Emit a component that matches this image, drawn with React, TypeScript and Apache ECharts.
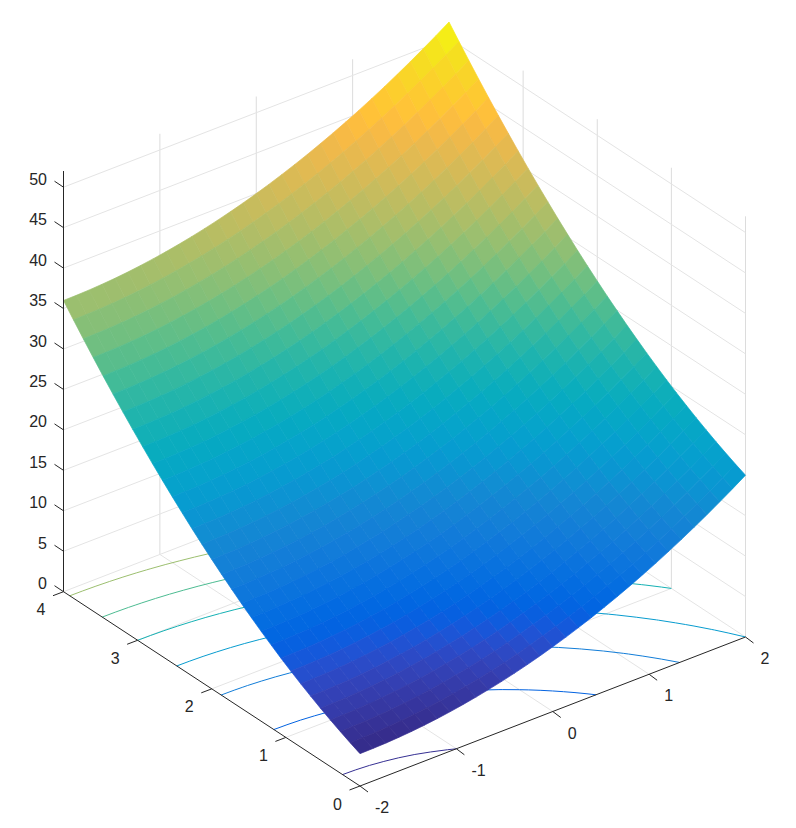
import React, { useEffect, useRef } from "react";
import * as echarts from "echarts";

const xValues = [-2,-1.8667,-1.7333,-1.6,-1.4667,-1.3333,-1.2,-1.0667,-0.9333,-0.8,-0.6667,-0.5333,-0.4,-0.2667,-0.1333,0,0.1333,0.2667,0.4,0.5333,0.6667,0.8,0.9333,1.0667,1.2,1.3333,1.4667,1.6,1.7333,1.8667,2];
const yValues = [0,0.1333,0.2667,0.4,0.5333,0.6667,0.8,0.9333,1.0667,1.2,1.3333,1.4667,1.6,1.7333,1.8667,2,2.1333,2.2667,2.4,2.5333,2.6667,2.8,2.9333,3.0667,3.2,3.3333,3.4667,3.6,3.7333,3.8667,4];
const zRows = [
[4,4.02,4.07,4.16,4.28,4.44,4.64,4.87,5.14,5.44,5.78,6.15,6.56,7,7.48,8,8.55,9.14,9.76,10.42,11.11,11.84,12.6,13.4,14.24,15.11,16.02,16.96,17.94,18.95,20],
[4.55,4.57,4.62,4.71,4.83,4.99,5.19,5.42,5.69,5.99,6.33,6.7,7.11,7.55,8.03,8.55,9.1,9.69,10.31,10.97,11.66,12.39,13.15,13.95,14.79,15.66,16.57,17.51,18.49,19.5,20.55],
[5.14,5.16,5.21,5.3,5.42,5.58,5.78,6.01,6.28,6.58,6.92,7.29,7.7,8.14,8.62,9.14,9.69,10.28,10.9,11.56,12.25,12.98,13.74,14.54,15.38,16.25,17.16,18.1,19.08,20.09,21.14],
[5.76,5.78,5.83,5.92,6.04,6.2,6.4,6.63,6.9,7.2,7.54,7.91,8.32,8.76,9.24,9.76,10.31,10.9,11.52,12.18,12.87,13.6,14.36,15.16,16,16.87,17.78,18.72,19.7,20.71,21.76],
[6.42,6.44,6.49,6.58,6.7,6.86,7.06,7.29,7.56,7.86,8.2,8.57,8.98,9.42,9.9,10.42,10.97,11.56,12.18,12.84,13.53,14.26,15.02,15.82,16.66,17.53,18.44,19.38,20.36,21.37,22.42],
[7.11,7.13,7.18,7.27,7.39,7.55,7.75,7.98,8.25,8.55,8.89,9.26,9.67,10.11,10.59,11.11,11.66,12.25,12.87,13.53,14.22,14.95,15.71,16.51,17.35,18.22,19.13,20.07,21.05,22.06,23.11],
[7.84,7.86,7.91,8,8.12,8.28,8.48,8.71,8.98,9.28,9.62,9.99,10.4,10.84,11.32,11.84,12.39,12.98,13.6,14.26,14.95,15.68,16.44,17.24,18.08,18.95,19.86,20.8,21.78,22.79,23.84],
[8.6,8.62,8.67,8.76,8.88,9.04,9.24,9.47,9.74,10.04,10.38,10.75,11.16,11.6,12.08,12.6,13.15,13.74,14.36,15.02,15.71,16.44,17.2,18,18.84,19.71,20.62,21.56,22.54,23.55,24.6],
[9.4,9.42,9.47,9.56,9.68,9.84,10.04,10.27,10.54,10.84,11.18,11.55,11.96,12.4,12.88,13.4,13.95,14.54,15.16,15.82,16.51,17.24,18,18.8,19.64,20.51,21.42,22.36,23.34,24.35,25.4],
[10.24,10.26,10.31,10.4,10.52,10.68,10.88,11.11,11.38,11.68,12.02,12.39,12.8,13.24,13.72,14.24,14.79,15.38,16,16.66,17.35,18.08,18.84,19.64,20.48,21.35,22.26,23.2,24.18,25.19,26.24],
[11.11,11.13,11.18,11.27,11.39,11.55,11.75,11.98,12.25,12.55,12.89,13.26,13.67,14.11,14.59,15.11,15.66,16.25,16.87,17.53,18.22,18.95,19.71,20.51,21.35,22.22,23.13,24.07,25.05,26.06,27.11],
[12.02,12.04,12.09,12.18,12.3,12.46,12.66,12.89,13.16,13.46,13.8,14.17,14.58,15.02,15.5,16.02,16.57,17.16,17.78,18.44,19.13,19.86,20.62,21.42,22.26,23.13,24.04,24.98,25.96,26.97,28.02],
[12.96,12.98,13.03,13.12,13.24,13.4,13.6,13.83,14.1,14.4,14.74,15.11,15.52,15.96,16.44,16.96,17.51,18.1,18.72,19.38,20.07,20.8,21.56,22.36,23.2,24.07,24.98,25.92,26.9,27.91,28.96],
[13.94,13.96,14.01,14.1,14.22,14.38,14.58,14.81,15.08,15.38,15.72,16.09,16.5,16.94,17.42,17.94,18.49,19.08,19.7,20.36,21.05,21.78,22.54,23.34,24.18,25.05,25.96,26.9,27.88,28.89,29.94],
[14.95,14.97,15.02,15.11,15.23,15.39,15.59,15.82,16.09,16.39,16.73,17.1,17.51,17.95,18.43,18.95,19.5,20.09,20.71,21.37,22.06,22.79,23.55,24.35,25.19,26.06,26.97,27.91,28.89,29.9,30.95],
[16,16.02,16.07,16.16,16.28,16.44,16.64,16.87,17.14,17.44,17.78,18.15,18.56,19,19.48,20,20.55,21.14,21.76,22.42,23.11,23.84,24.6,25.4,26.24,27.11,28.02,28.96,29.94,30.95,32],
[17.08,17.1,17.15,17.24,17.36,17.52,17.72,17.95,18.22,18.52,18.86,19.23,19.64,20.08,20.56,21.08,21.63,22.22,22.84,23.5,24.19,24.92,25.68,26.48,27.32,28.19,29.1,30.04,31.02,32.03,33.08],
[18.2,18.22,18.27,18.36,18.48,18.64,18.84,19.07,19.34,19.64,19.98,20.35,20.76,21.2,21.68,22.2,22.75,23.34,23.96,24.62,25.31,26.04,26.8,27.6,28.44,29.31,30.22,31.16,32.14,33.15,34.2],
[19.36,19.38,19.43,19.52,19.64,19.8,20,20.23,20.5,20.8,21.14,21.51,21.92,22.36,22.84,23.36,23.91,24.5,25.12,25.78,26.47,27.2,27.96,28.76,29.6,30.47,31.38,32.32,33.3,34.31,35.36],
[20.55,20.57,20.62,20.71,20.83,20.99,21.19,21.42,21.69,21.99,22.33,22.7,23.11,23.55,24.03,24.55,25.1,25.69,26.31,26.97,27.66,28.39,29.15,29.95,30.79,31.66,32.57,33.51,34.49,35.5,36.55],
[21.78,21.8,21.85,21.94,22.06,22.22,22.42,22.65,22.92,23.22,23.56,23.93,24.34,24.78,25.26,25.78,26.33,26.92,27.54,28.2,28.89,29.62,30.38,31.18,32.02,32.89,33.8,34.74,35.72,36.73,37.78],
[23.04,23.06,23.11,23.2,23.32,23.48,23.68,23.91,24.18,24.48,24.82,25.19,25.6,26.04,26.52,27.04,27.59,28.18,28.8,29.46,30.15,30.88,31.64,32.44,33.28,34.15,35.06,36,36.98,37.99,39.04],
[24.34,24.36,24.41,24.5,24.62,24.78,24.98,25.21,25.48,25.78,26.12,26.49,26.9,27.34,27.82,28.34,28.89,29.48,30.1,30.76,31.45,32.18,32.94,33.74,34.58,35.45,36.36,37.3,38.28,39.29,40.34],
[25.67,25.69,25.74,25.83,25.95,26.11,26.31,26.54,26.81,27.11,27.45,27.82,28.23,28.67,29.15,29.67,30.22,30.81,31.43,32.09,32.78,33.51,34.27,35.07,35.91,36.78,37.69,38.63,39.61,40.62,41.67],
[27.04,27.06,27.11,27.2,27.32,27.48,27.68,27.91,28.18,28.48,28.82,29.19,29.6,30.04,30.52,31.04,31.59,32.18,32.8,33.46,34.15,34.88,35.64,36.44,37.28,38.15,39.06,40,40.98,41.99,43.04],
[28.44,28.46,28.51,28.6,28.72,28.88,29.08,29.31,29.58,29.88,30.22,30.59,31,31.44,31.92,32.44,32.99,33.58,34.2,34.86,35.55,36.28,37.04,37.84,38.68,39.55,40.46,41.4,42.38,43.39,44.44],
[29.88,29.9,29.95,30.04,30.16,30.32,30.52,30.75,31.02,31.32,31.66,32.03,32.44,32.88,33.36,33.88,34.43,35.02,35.64,36.3,36.99,37.72,38.48,39.28,40.12,40.99,41.9,42.84,43.82,44.83,45.88],
[31.36,31.38,31.43,31.52,31.64,31.8,32,32.23,32.5,32.8,33.14,33.51,33.92,34.36,34.84,35.36,35.91,36.5,37.12,37.78,38.47,39.2,39.96,40.76,41.6,42.47,43.38,44.32,45.3,46.31,47.36],
[32.87,32.89,32.94,33.03,33.15,33.31,33.51,33.74,34.01,34.31,34.65,35.02,35.43,35.87,36.35,36.87,37.42,38.01,38.63,39.29,39.98,40.71,41.47,42.27,43.11,43.98,44.89,45.83,46.81,47.82,48.87],
[34.42,34.44,34.49,34.58,34.7,34.86,35.06,35.29,35.56,35.86,36.2,36.57,36.98,37.42,37.9,38.42,38.97,39.56,40.18,40.84,41.53,42.26,43.02,43.82,44.66,45.53,46.44,47.38,48.36,49.37,50.42],
[36,36.02,36.07,36.16,36.28,36.44,36.64,36.87,37.14,37.44,37.78,38.15,38.56,39,39.48,40,40.55,41.14,41.76,42.42,43.11,43.84,44.6,45.4,46.24,47.11,48.02,48.96,49.94,50.95,52],
];
const xTicks = [-2, -1, 0, 1, 2];
const yTicks = [0, 1, 2, 3, 4];
const zTicks = [0, 5, 10, 15, 20, 25, 30, 35, 40, 45, 50];
const contourLevels = [5, 10, 15, 20, 25, 30, 35, 40, 45, 50];
const parula = [
[0.2081,0.1663,0.5292],[0.2116,0.1898,0.5777],[0.2123,0.2138,0.627],[0.2081,0.2386,0.6771],[0.1959,0.2645,0.7279],[0.1707,0.2919,0.7792],[0.1253,0.3242,0.8303],[0.0591,0.3598,0.8683],
[0.0117,0.3875,0.882],[0.006,0.4086,0.8828],[0.0165,0.4266,0.8786],[0.0329,0.443,0.872],[0.0498,0.4586,0.8641],[0.0629,0.4737,0.8554],[0.0723,0.4887,0.8467],[0.0779,0.504,0.8384],
[0.0793,0.52,0.8312],[0.0749,0.5375,0.8263],[0.0641,0.557,0.824],[0.0488,0.5772,0.8228],[0.0343,0.5966,0.8199],[0.0265,0.6137,0.8135],[0.0239,0.6287,0.8038],[0.0231,0.6418,0.7913],
[0.0228,0.6535,0.7768],[0.0267,0.6642,0.7607],[0.0384,0.6743,0.7436],[0.059,0.6838,0.7254],[0.0843,0.6928,0.7062],[0.1133,0.7015,0.6859],[0.1453,0.7098,0.6646],[0.1801,0.7177,0.6424],
[0.2178,0.725,0.6193],[0.2586,0.7317,0.5954],[0.3022,0.7376,0.5712],[0.3482,0.7424,0.5473],[0.3953,0.7459,0.5244],[0.442,0.7481,0.5033],[0.4871,0.7491,0.484],[0.53,0.7491,0.4661],
[0.5709,0.7485,0.4494],[0.6099,0.7473,0.4337],[0.6473,0.7456,0.4188],[0.6834,0.7435,0.4044],[0.7184,0.7411,0.3905],[0.7525,0.7384,0.3768],[0.7858,0.7356,0.3633],[0.8185,0.7327,0.3498],
[0.8507,0.7299,0.336],[0.8824,0.7274,0.3217],[0.9139,0.7258,0.3063],[0.945,0.7261,0.2886],[0.9739,0.7314,0.2666],[0.9938,0.7455,0.2403],[0.999,0.7653,0.2164],[0.9955,0.7861,0.1967],
[0.988,0.8066,0.1794],[0.9789,0.8271,0.1633],[0.9697,0.8481,0.1475],[0.9626,0.8705,0.1309],[0.9589,0.8949,0.1132],[0.9598,0.9218,0.0948],[0.9661,0.9514,0.0755],[0.9763,0.9831,0.0538],
];

const zLimits = [4, 52];
const AXIS = "#262626";
const GRID_V = "#dcdcdc";
const GRID_S = "#e4e4e4";
const FONT = '16px "Liberation Sans", Arial, sans-serif';

// Orthographic view: 3D data to the plane of the hidden value axes.
const project = (x: number, y: number, z: number): [number, number] => [
  360 + (x + 2) * 96.375 - y * 74.125,
  786 - (x + 2) * 37.25 - y * 48.575 - z * 8.09,
];
// Colour of a contour: one of the 64 map entries.
const colorOf = (z: number) => {
  const i = Math.min(63, Math.max(0, Math.floor(((z - zLimits[0]) / (zLimits[1] - zLimits[0])) * 64)));
  const c = parula[i];
  return `rgb(${Math.round(c[0] * 255)},${Math.round(c[1] * 255)},${Math.round(c[2] * 255)})`;
};
// Colour of a facet: blended between map entries.
const smoothColorOf = (z: number) => {
  const t = Math.min(63, Math.max(0, ((z - zLimits[0]) / (zLimits[1] - zLimits[0])) * 63));
  const i = Math.min(62, Math.floor(t));
  const f = t - i;
  const c = parula[i].map((v, n) => v + (parula[i + 1][n] - v) * f);
  return `rgb(${Math.round(c[0] * 255)},${Math.round(c[1] * 255)},${Math.round(c[2] * 255)})`;
};

type Seg = { a: [number, number, number]; b: [number, number, number]; color: string };
const gridSegments = (): Seg[] => {
  const zTop = zLimits[1];
  const out: Seg[] = [];
  for (const t of xTicks) {
    if (t > -2 && t < 2) out.push({ a: [t, 0, 0], b: [t, 4, 0], color: GRID_S });
    if (t > -2) out.push({ a: [t, 4, 0], b: [t, 4, zTop], color: GRID_V });
  }
  for (const t of yTicks) {
    if (t > 0 && t < 4) out.push({ a: [-2, t, 0], b: [2, t, 0], color: GRID_S });
    if (t < 4) out.push({ a: [2, t, 0], b: [2, t, zTop], color: GRID_V });
  }
  for (const t of zTicks) {
    out.push({ a: [-2, 4, t], b: [2, 4, t], color: GRID_S });
    out.push({ a: [2, 4, t], b: [2, 0, t], color: GRID_S });
  }
  return out;
};

const contourPoints = (level: number) => {
  const pts: [number, number][] = [];
  for (let j = 0; j < yValues.length; j++) {
    for (let k = 0; k < xValues.length; k++) {
      const z = zRows[j][k];
      if (k + 1 < xValues.length) {
        const r = zRows[j][k + 1];
        if (z < level && r >= level) pts.push([xValues[k] + ((level - z) / (r - z)) * (xValues[k + 1] - xValues[k]), yValues[j]]);
      }
      if (j + 1 < yValues.length) {
        const u = zRows[j + 1][k];
        if (z < level && u >= level) pts.push([xValues[k], yValues[j] + ((level - z) / (u - z)) * (yValues[j + 1] - yValues[j])]);
      }
    }
  }
  return pts.sort((p, q) => p[0] - q[0] || q[1] - p[1]);
};

export default function App() {
  const ref = useRef<HTMLDivElement>(null);
  useEffect(() => {
    document.body.style.margin = "0";
    const chart = echarts.init(ref.current!, undefined, { renderer: "svg" });
    const px = (api: any, p: [number, number]) => api.coord(p);

    const grid = gridSegments();
    const contours = contourLevels.map((level) => ({ level, pts: contourPoints(level) })).filter((c) => c.pts.length > 1);
    const facets: number[][] = [];
    for (let j = yValues.length - 2; j >= 0; j--) for (let k = xValues.length - 2; k >= 0; k--) facets.push([k, j]);

    const axisLines: [[number, number], [number, number]][] = [
      [project(-2, 4, 0), project(-2, 4, zLimits[1])],
      [project(-2, 4, 0), project(-2, 0, 0)],
      [project(-2, 0, 0), project(2, 0, 0)],
    ];
    const tick = (p: [number, number], d: [number, number]): [[number, number], [number, number]] => [p, [p[0] + d[0], p[1] + d[1]]];
    for (const t of xTicks) axisLines.push(tick(project(t, 0, 0), [8, 6]));
    for (const t of yTicks) axisLines.push(tick(project(-2, t, 0), [-10.5, 4]));
    for (const t of zTicks) axisLines.push(tick(project(-2, 4, t), [-9, -6]));

    type Lab = { text: string; p: [number, number]; align: string };
    const labels: Lab[] = [];
    for (const t of xTicks) {
      const p = project(t, 0, 0);
      labels.push({ text: String(t), p: [p[0] + 15, p[1] + 21.5], align: "left" });
    }
    for (const t of yTicks) {
      const p = project(-2, t, 0);
      labels.push({ text: String(t), p: [p[0] - 18, p[1] + 18], align: "right" });
    }
    for (const t of zTicks) {
      const p = project(-2, 4, t);
      labels.push({ text: String(t), p: [p[0] - 16.5, p[1] - 8], align: "right" });
    }

    const base = { type: "custom", coordinateSystem: "cartesian2d", silent: true, clip: false, animation: false, progressive: 0 };
    chart.setOption({
      animation: false,
      tooltip: { show: false },
      grid: { left: 0, right: 0, top: 0, bottom: 0 },
      xAxis: { type: "value", min: 0, max: 796, show: false },
      yAxis: { type: "value", min: 0, max: 828, inverse: true, show: false },
      series: [
        {
          ...base,
          data: grid.map((_, i) => [i, 0]),
          renderItem: (params: any, api: any) => {
            const s = grid[params.dataIndex];
            const a = px(api, project(...s.a));
            const b = px(api, project(...s.b));
            return { type: "line", shape: { x1: a[0], y1: a[1], x2: b[0], y2: b[1] }, style: { stroke: s.color, lineWidth: 1 } };
          },
        },
        {
          ...base,
          data: contours.map((_, i) => [i, 0]),
          renderItem: (params: any, api: any) => {
            const c = contours[params.dataIndex];
            return {
              type: "polyline",
              shape: { points: c.pts.map((p) => px(api, project(p[0], p[1], 0))) },
              style: { stroke: colorOf(c.level), fill: null, lineWidth: 1 },
            };
          },
        },
        {
          ...base,
          data: facets,
          renderItem: (params: any, api: any) => {
            const [k, j] = facets[params.dataIndex];
            const corners: [number, number][] = [[k, j], [k + 1, j], [k + 1, j + 1], [k, j + 1]];
            const color = smoothColorOf((zRows[j][k] + zRows[j][k + 1] + zRows[j + 1][k] + zRows[j + 1][k + 1]) / 4);
            return {
              type: "polygon",
              shape: { points: corners.map(([a, b]) => px(api, project(xValues[a], yValues[b], zRows[b][a]))) },
              style: { fill: color, stroke: color, lineWidth: 0.7 },
            };
          },
        },
        {
          ...base,
          data: axisLines.map((_, i) => [i, 0]),
          renderItem: (params: any, api: any) => {
            const s = axisLines[params.dataIndex];
            const a = px(api, s[0]);
            const b = px(api, s[1]);
            return { type: "line", shape: { x1: a[0], y1: a[1], x2: b[0], y2: b[1] }, style: { stroke: AXIS, lineWidth: 1 } };
          },
        },
        {
          ...base,
          data: labels.map((_, i) => [i, 0]),
          renderItem: (params: any, api: any) => {
            const l = labels[params.dataIndex];
            const c = px(api, l.p);
            return {
              type: "text",
              style: { text: l.text, x: c[0], y: c[1], fill: AXIS, font: FONT, textAlign: l.align, textVerticalAlign: "middle", align: l.align, verticalAlign: "middle" },
            };
          },
        },
      ],
    });
    return () => chart.dispose();
  }, []);
  return <div ref={ref} style={{ position: "absolute", left: 0, top: 0, width: 796, height: 828, background: "#fff" }} />;
}
